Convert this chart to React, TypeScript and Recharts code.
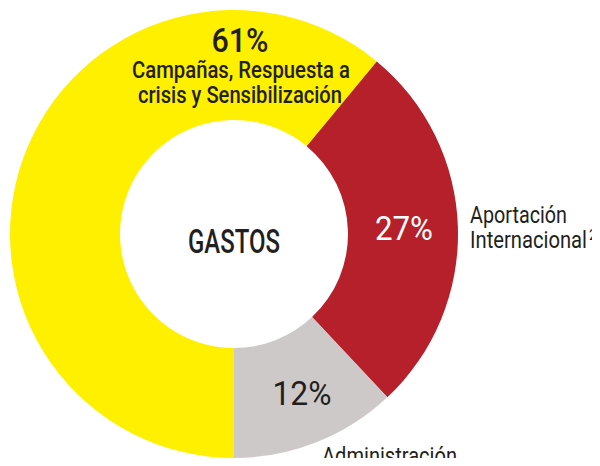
import React from 'react';
import { PieChart, Pie, Cell } from 'recharts';

// Gastos distribution (%)
const categories = ['Campañas, Respuesta a crisis y Sensibilización', 'Aportación Internacional', 'Administración'];
const values = [61, 27, 12];
const sliceColors = ['#FFF000', '#B6202A', '#CDC9C9'];

const data = categories.map((name, i) => ({ name, value: values[i] }));

const FONT = 'Roboto, "Noto Sans", sans-serif';
const INK = '#231F20';

const CX = 234;
const CY = 234;
const INNER = 114;
const OUTER = 224;
const SQUEEZE = 0.8;

// condensed look: narrow the glyphs, then fit to the reference width
const T = ({ w, x, y, ...rest }: any) => (
  <g transform={`translate(${x},${y}) scale(${SQUEEZE},1)`}>
    <text x={0} y={0} textLength={w / SQUEEZE} lengthAdjust="spacingAndGlyphs" fontFamily={FONT} {...rest} />
  </g>
);

// label placement relative to the pie centre, per slice
const renderLabel = (props: any) => {
  const { cx, cy, index, value } = props;
  const pct = `${value}%`;
  if (index === 0) {
    return (
      <g key="l0">
        <T w={57} x={cx + 6} y={cy - 182} textAnchor="middle" fontSize={34} fontWeight={500} fill={INK}>{pct}</T>
        <T w={218} x={cx + 7} y={cy - 156} textAnchor="middle" fontSize={23} fontWeight={500} fill={INK}>Campañas, Respuesta a</T>
        <T w={204} x={cx + 6} y={cy - 131} textAnchor="middle" fontSize={23} fontWeight={500} fill={INK}>crisis y Sensibilización</T>
      </g>
    );
  }
  if (index === 1) {
    return (
      <g key="l1">
        <T w={58} x={cx + 170} y={cy + 6} textAnchor="middle" fontSize={34} fill="#fff">{pct}</T>
        <T w={97} x={cx + 236} y={cy - 11} fontSize={23} fill={INK}>Aportación</T>
        <T w={117} x={cx + 236} y={cy + 14} fontSize={23} fill={INK}>Internacional</T>
        <T w={8} x={cx + 355} y={cy + 6} fontSize={14} fill={INK}>2</T>
      </g>
    );
  }
  return (
    <g key="l2">
      <T w={59} x={cx + 68} y={cy + 171} textAnchor="middle" fontSize={34} fill={INK}>{pct}</T>
      <T w={135} x={cx + 88} y={cy + 230} fontSize={23} fill={INK}>Administración</T>
    </g>
  );
};

export default function App() {
  return (
    <div style={{ margin: -8, width: 600, height: 466, background: '#fff' }}>
      <PieChart width={600} height={466} margin={{ top: 0, right: 0, bottom: 0, left: 0 }}>
        <Pie
          data={data}
          dataKey="value"
          nameKey="name"
          cx={CX}
          cy={CY}
          innerRadius={INNER}
          outerRadius={OUTER}
          startAngle={270}
          endAngle={-90}
          stroke="none"
          labelLine={false}
          label={renderLabel}
          isAnimationActive={false}
        >
          {data.map((entry, i) => (
            <Cell key={entry.name} fill={sliceColors[i]} />
          ))}
        </Pie>
        <T w={92} x={CX} y={CY + 19} textAnchor="middle" fontSize={34} fontWeight={500} fill={INK}>
          GASTOS
        </T>
      </PieChart>
    </div>
  );
}
